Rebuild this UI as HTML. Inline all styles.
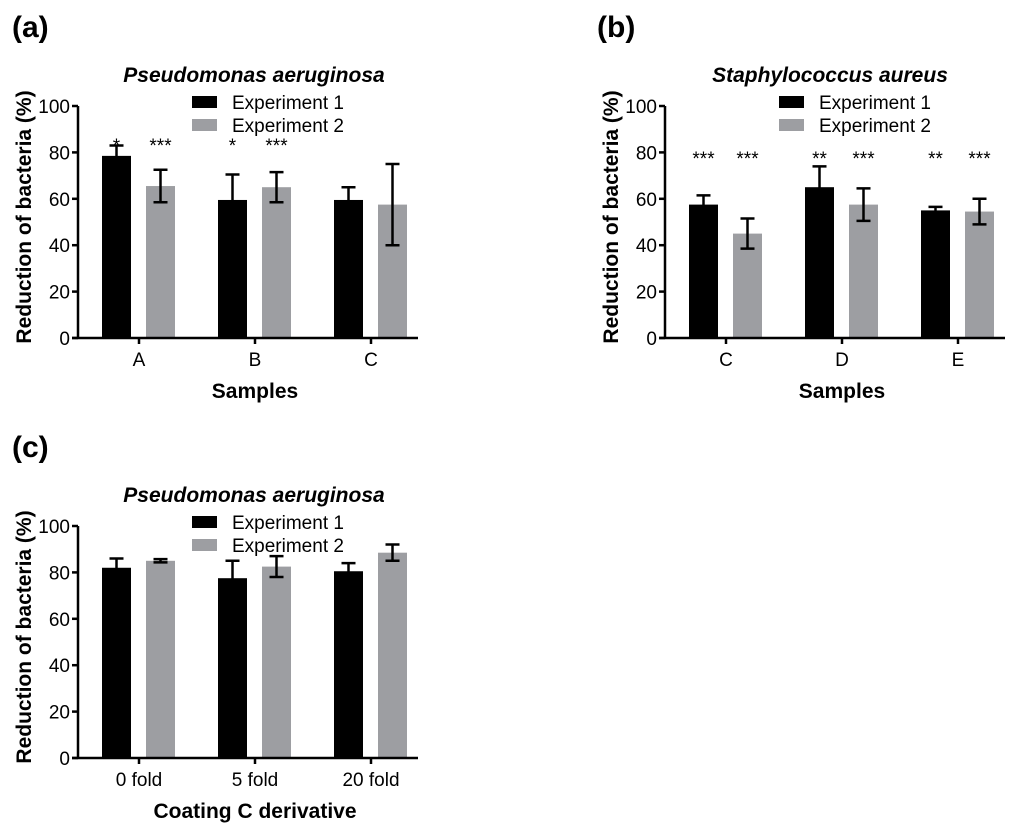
<!DOCTYPE html>
<html><head><meta charset="utf-8">
<style>
body{margin:0;background:#fff;}
svg{display:block;font-family:"Liberation Sans",Arial,sans-serif;}
</style></head>
<body>
<svg id="fig" width="1024" height="831" viewBox="0 0 1024 831"></svg>
<script>
// Panel (a)
const catsA = ["A","B","C"];
const exp1A = [78.5, 59.5, 59.5];
const err1A = [4.5, 11, 5.5];
const exp2A = [65.5, 65, 57.5];
const err2A = [7, 6.5, 17.5];
const sig1A = ["*","*",""];
const sig2A = ["***","***",""];
// Panel (b)
const catsB = ["C","D","E"];
const exp1B = [57.5, 65, 55];
const err1B = [4, 9, 1.5];
const exp2B = [45, 57.5, 54.5];
const err2B = [6.5, 7, 5.5];
const sig1B = ["***","**","**"];
const sig2B = ["***","***","***"];
// Panel (c)
const catsC = ["0 fold","5 fold","20 fold"];
const exp1C = [82, 77.5, 80.5];
const err1C = [4, 7.5, 3.5];
const exp2C = [85, 82.5, 88.5];
const err2C = [0.7, 4.5, 3.5];
const yTicks = [0,20,40,60,80,100];

const NS="http://www.w3.org/2000/svg";
const svg=document.getElementById('fig');
function mk(tag,attrs,parent,text){
  const e=document.createElementNS(NS,tag);
  for(const k in attrs) e.setAttribute(k,attrs[k]);
  if(text!==undefined) e.textContent=text;
  (parent||svg).appendChild(e);
  return e;
}
function panel(o){
  const g=mk('g',{});
  
  
  const x0=o.x0, yTop=o.yTop, yBot=o.yBot;
  const yS=v=>yBot-(v/100)*(yBot-yTop);
  const catX=i=>x0+61+i*116;
  const lab=mk('text',{x:o.lx,y:o.ly,'font-size':30,'font-weight':'bold'},g,o.label);
  
  
  const t=mk('text',{x:o.tx,y:yTop-24,'font-size':21,'font-weight':'bold','font-style':'italic','text-anchor':'middle'},g,o.title);
  
  
  for(let i=0;i<o.cats.length;i++){
    const cx=catX(i);
    [[o.e1,o.r1,'#000',-37,o.s1],[o.e2,o.r2,'#9d9ea2',7,o.s2]].forEach((s,k)=>{
      const bx=cx+s[3], w=29, v=s[0][i];
      const b=mk('rect',{x:bx,y:yS(v),width:w,height:yS(0)-yS(v),fill:s[2]},g);
      
      
      const mx=bx+w/2, hi=yS(v+s[1][i]), lo=yS(v-s[1][i]);
      const eb=mk('path',{d:`M${mx},${hi}V${lo}M${mx-7},${hi}H${mx+7}M${mx-7},${lo}H${mx+7}`,stroke:'#000','stroke-width':2.5,fill:'none'},g);
      
      
      if(s[4] && s[4][i]){
        const st=mk('text',{x:mx,y:o.starY,'font-size':19,'text-anchor':'middle'},g,s[4][i]);
        
        
      }
    });
    mk('line',{x1:cx,x2:cx,y1:yBot,y2:yBot+6,stroke:'#000','stroke-width':2.5},g);
    const tl=mk('text',{x:cx,y:yBot+28,'font-size':19,'text-anchor':'middle'},g,o.cats[i]);
    
    
  }
  const ax=mk('path',{d:`M${x0},${yTop}V${yBot}M${x0-6},${yBot}H${x0+340}`,stroke:'#000','stroke-width':2.5,fill:'none'},g);
  
  
  yTicks.forEach(v=>{
    mk('line',{x1:x0-6,x2:x0,y1:yS(v),y2:yS(v),stroke:'#000','stroke-width':2.5},g);
    const yl=mk('text',{x:x0-8,y:yS(v)+7,'font-size':19,'text-anchor':'end'},g,v);
    
    
  });
  const yt=mk('text',{x:0,y:0,'font-size':21,'font-weight':'bold','text-anchor':'middle',transform:`translate(${x0-47},${(yTop+yBot)/2-5}) rotate(-90)`},g,'Reduction of bacteria (%)');
  
  
  const xt=mk('text',{x:x0+177,y:yBot+60,'font-size':21,'font-weight':'bold','text-anchor':'middle'},g,o.xtitle);
  
  
  const lx=x0+114;
  [['#000','Experiment 1',0],['#9d9ea2','Experiment 2',23]].forEach((l,k)=>{
    mk('rect',{x:lx,y:yTop-10+l[2],width:25,height:12,fill:l[0]},g);
    const le=mk('text',{x:lx+40,y:yTop+3+l[2],'font-size':19},g,l[1]);
    
    
  });
}
panel({name:'panel-a',label:'(a)',lx:12,ly:37,x0:78,yTop:106,yBot:338,tx:254,title:'Pseudomonas aeruginosa',
  cats:catsA,e1:exp1A,r1:err1A,e2:exp2A,r2:err2A,s1:sig1A,s2:sig2A,starY:152,xtitle:'Samples'});
panel({name:'panel-b',label:'(b)',lx:597,ly:37,x0:665,yTop:106,yBot:338,tx:830,title:'Staphylococcus aureus',
  cats:catsB,e1:exp1B,r1:err1B,e2:exp2B,r2:err2B,s1:sig1B,s2:sig2B,starY:165,xtitle:'Samples'});
panel({name:'panel-c',label:'(c)',lx:12,ly:457,x0:78,yTop:526,yBot:758,tx:254,title:'Pseudomonas aeruginosa',
  cats:catsC,e1:exp1C,r1:err1C,e2:exp2C,r2:err2C,s1:null,s2:null,starY:0,xtitle:'Coating C derivative'});
</script>
</body></html>
